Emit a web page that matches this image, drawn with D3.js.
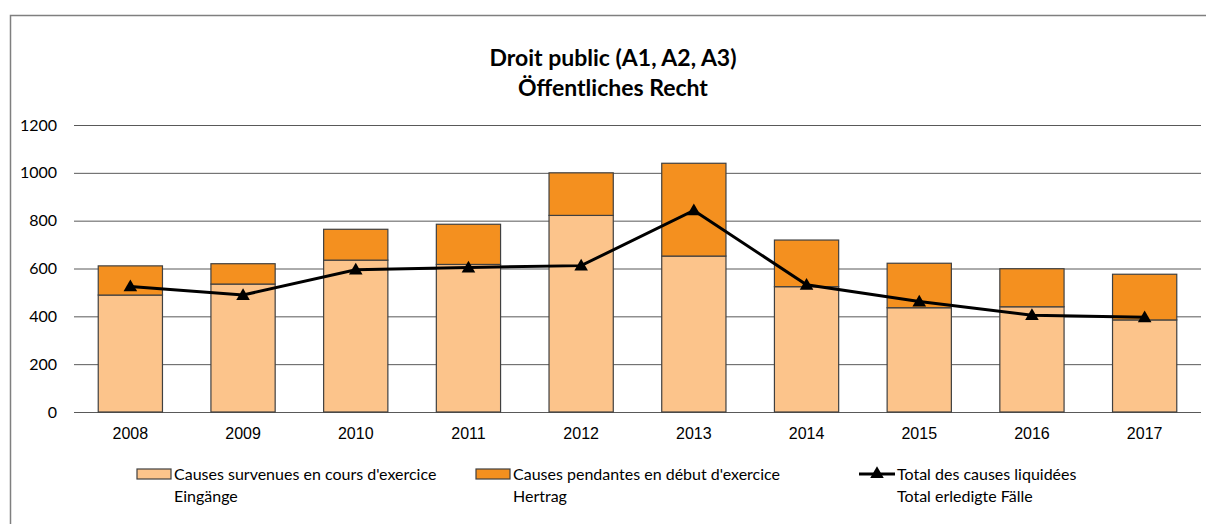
<!DOCTYPE html>
<html>
<head>
<meta charset="utf-8">
<script src="https://cdn.jsdelivr.net/npm/d3@7"></script>
<style>
  body { margin: 0; background: #fff; }
  svg { display: block; font-family: Lato, "Open Sans", sans-serif; }
  .grid line { stroke: #595959; stroke-width: 1; }
  .grid text, .x-axis text { font-size: 16px; fill: #000; }
</style>
</head>
<body>
<div id="chart"></div>
<script>
const years = ["2008", "2009", "2010", "2011", "2012", "2013", "2014", "2015", "2016", "2017"];
const eingaenge = [489, 535, 635, 617, 822, 652, 524, 436, 440, 385];
const hertrag = [122, 85, 129, 168, 178, 388, 195, 186, 159, 191];
const erledigt = [525, 489, 595, 604, 612, 843, 532, 462, 405, 396];
const yTicks = [0, 200, 400, 600, 800, 1000, 1200];

const titleLines = ["Droit public (A1, A2, A3)", "Öffentliches Recht"];
const legendItems = [
  { lines: ["Causes survenues en cours d'exercice", "Eingänge"], kind: "bar", fill: "#fcc48b" },
  { lines: ["Causes pendantes en début d'exercice", "Hertrag"], kind: "bar", fill: "#f4901f" },
  { lines: ["Total des causes liquidées", "Total erledigte Fälle"], kind: "line" }
];

const drawChart = () => {
  const size = { width: 1206, height: 524 };
  const plot = { left: 74, right: 1201, top: 125, bottom: 412 };

  const svg = d3.select("#chart").append("svg")
    .attr("width", size.width)
    .attr("height", size.height);

  // outer frame (runs off the right and bottom edge)
  svg.append("rect")
    .attr("x", 10.5).attr("y", 15.5)
    .attr("width", 1210).attr("height", 540)
    .attr("fill", "none")
    .attr("stroke", "#7f7f7f")
    .attr("stroke-width", 1.5);

  svg.append("text")
    .attr("text-anchor", "middle")
    .attr("font-weight", "bold")
    .attr("font-size", 23)
    .selectAll("tspan").data(titleLines).join("tspan")
    .attr("x", 613)
    .attr("y", (d, i) => 66 + i * 30)
    .text(d => d);

  const x = d3.scaleBand()
    .domain(years)
    .range([plot.left, plot.right])
    .paddingInner(0.43)
    .paddingOuter(0.215);

  const y = d3.scaleLinear()
    .domain([0, 1200])
    .range([plot.bottom, plot.top]);

  const grid = svg.append("g")
    .attr("class", "grid")
    .attr("transform", `translate(${plot.left},0)`)
    .call(d3.axisLeft(y).tickValues(yTicks).tickFormat(d3.format("d"))
      .tickSize(-(plot.right - plot.left)).tickPadding(17));
  grid.select(".domain").remove();
  grid.selectAll("text").attr("font-family", "Lato, sans-serif");

  const stacked = years.map((yr, i) => ({ yr, low: eingaenge[i], high: hertrag[i] }));

  const bars = svg.append("g")
    .attr("stroke", "#404040")
    .attr("stroke-width", 1.2);

  bars.selectAll(".low").data(stacked).join("rect")
    .attr("class", "low")
    .attr("x", d => x(d.yr))
    .attr("y", d => y(d.low))
    .attr("width", x.bandwidth())
    .attr("height", d => y(0) - y(d.low))
    .attr("fill", "#fcc48b");

  bars.selectAll(".high").data(stacked).join("rect")
    .attr("class", "high")
    .attr("x", d => x(d.yr))
    .attr("y", d => y(d.low + d.high))
    .attr("width", x.bandwidth())
    .attr("height", d => y(d.low) - y(d.low + d.high))
    .attr("fill", "#f4901f");

  const xAxis = svg.append("g")
    .attr("class", "x-axis")
    .attr("transform", `translate(0,${plot.bottom})`)
    .call(d3.axisBottom(x).tickSize(0).tickPadding(16));
  xAxis.select(".domain").remove();

  const cx = d => x(d) + x.bandwidth() / 2;
  const line = d3.line()
    .x((d, i) => cx(years[i]))
    .y(d => y(d));

  svg.append("path")
    .datum(erledigt)
    .attr("d", line)
    .attr("fill", "none")
    .attr("stroke", "#000")
    .attr("stroke-width", 3);

  const tri = d3.symbol().type(d3.symbolTriangle).size(80);
  svg.selectAll(".marker").data(erledigt).join("path")
    .attr("class", "marker")
    .attr("transform", (d, i) => `translate(${cx(years[i])},${y(d) + 1})`)
    .attr("d", tri)
    .attr("fill", "#000");

  // legend
  const legendX = [137, 476, 859];
  const lg = svg.append("g").attr("font-size", 16);
  legendItems.forEach((item, i) => {
    const g = lg.append("g").attr("transform", `translate(${legendX[i]},0)`);
    if (item.kind === "bar") {
      g.append("rect")
        .attr("x", 0).attr("y", 469)
        .attr("width", 34).attr("height", 10)
        .attr("fill", item.fill)
        .attr("stroke", "#404040")
        .attr("stroke-width", 1.2);
    } else {
      g.append("line")
        .attr("x1", 0).attr("x2", 36)
        .attr("y1", 474).attr("y2", 474)
        .attr("stroke", "#000").attr("stroke-width", 3);
      g.append("path")
        .attr("transform", "translate(18,474)")
        .attr("d", tri)
        .attr("fill", "#000");
    }
    g.append("text")
      .selectAll("tspan").data(item.lines).join("tspan")
      .attr("x", item.kind === "bar" ? 37 : 38)
      .attr("y", (d, j) => 480 + j * 22)
      .text(d => d);
  });
};

window.onload = drawChart;
</script>
</body>
</html>
